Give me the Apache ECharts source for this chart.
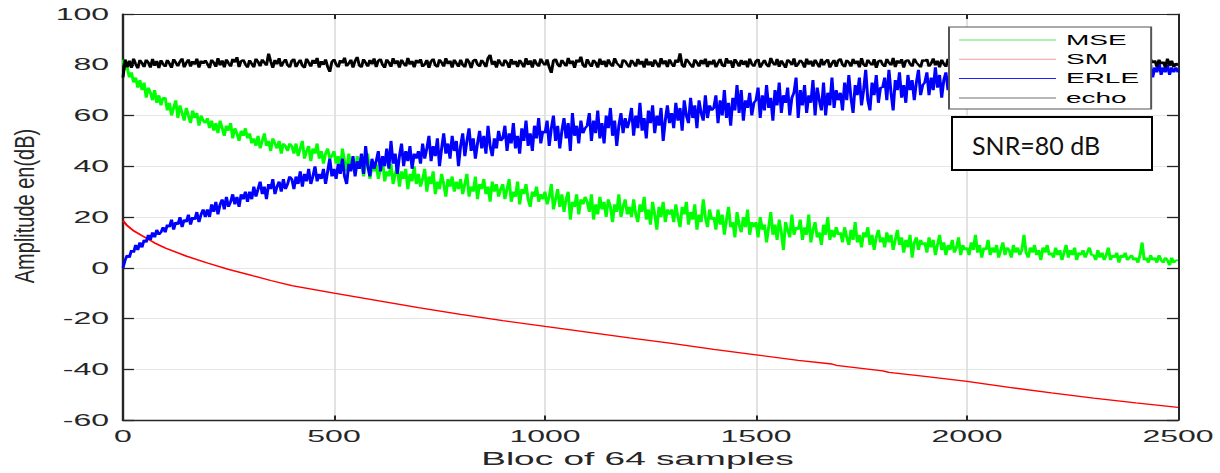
<!DOCTYPE html>
<html>
<head>
<meta charset="utf-8">
<script src="https://cdn.jsdelivr.net/npm/echarts@6/dist/echarts.min.js"></script>
<style>
  html, body { margin: 0; padding: 0; background: #fff; overflow: hidden; }
  /* The figure is laid out at half width and widened 2x, like a MATLAB export stretched sideways. */
  #chart { width: 610px; height: 473px; transform: scaleX(2); transform-origin: 0 0; }
</style>
</head>
<body>
<div id="chart"></div>
<script>
// Block spacing between stored samples of the noisy curves (blocs of 64 samples)
const BLOCK_STEP = 5;

// MSE curve, one value every BLOCK_STEP blocks, 0..2500 (dB)
const mseValues = [
  82,78,79,75,77,73,75,71,74,70,73,67,71,69,66,70,65,68,64,67,
  67,62,65,60,63,66,59,64,61,58,63,60,57,62,59,61,56,60,58,57,
  59,55,58,54,57,53,58,55,52,56,54,57,51,55,53,50,54,52,55,51,
  53,49,51,48,52,47,50,53,48,50,46,51,49,47,50,45,49,48,46,49,
  48,45,49,44,47,50,43,46,48,42,47,45,49,43,46,41,45,47,43,44,
  46,41,44,39,47,42,38,45,40,43,37,44,39,42,36,41,45,35,40,38,
  41,35,39,43,34,38,36,41,33,37,40,32,38,35,39,31,37,34,40,33,
  37,32,35,39,30,36,33,38,29,34,31,37,33,28,35,32,36,30,34,31,
  35,29,33,37,28,32,30,36,27,33,31,35,29,32,26,34,30,33,28,31,
  33,27,31,35,26,30,28,34,25,31,29,33,27,24,30,28,32,26,29,27,
  30,25,28,33,23,27,31,24,29,22,27,30,19,26,24,29,21,27,25,28,
  26,22,29,19,25,21,28,23,26,20,27,24,18,25,22,29,20,24,27,21,
  24,20,27,21,18,25,22,28,19,23,17,26,21,15,24,20,26,18,23,21,
  23,18,25,20,16,24,21,26,17,22,19,25,15,21,18,27,20,16,23,19,
  20,15,23,17,21,13,19,24,16,18,12,22,17,14,20,16,23,13,18,16,
  18,12,20,15,17,10,16,22,13,17,11,19,14,7,18,15,12,21,13,16,
  15,19,11,16,13,21,10,15,18,12,14,9,17,13,20,11,15,12,16,13,
  14,10,16,12,9,15,11,18,10,13,8,14,12,16,9,13,7,12,15,10,
  12,8,14,10,13,7,11,15,9,12,6,11,8,13,4,10,12,7,11,9,
  10,6,12,8,11,5,9,13,7,10,5,9,7,11,6,8,12,5,9,7,
  8,5,10,7,13,6,9,4,8,7,11,5,8,6,9,4,7,10,5,8,
  7,4,9,6,8,5,7,13,6,4,8,6,9,5,7,3,8,6,9,5,
  6,4,8,5,7,3,6,9,4,7,5,8,3,6,5,7,4,6,8,5,
  5,3,7,4,6,3,5,8,3,5,4,6,2,5,4,6,3,4,5,3,
  4,2,5,10,3,4,2,5,3,4,2,5,3,2,4,3,1,4,2,3,
  3
];

// ERLE curve, same block spacing (dB)
const erleValues = [
  0,3,5,4,7,6,9,7,10,8,11,10,13,11,14,12,15,13,14,16,
  14,17,16,19,15,18,17,20,16,19,18,21,17,20,19,22,18,21,23,20,
  23,20,25,22,26,21,25,27,23,28,24,26,29,25,28,24,29,27,30,26,
  30,27,32,28,31,34,29,32,27,33,31,35,29,32,34,30,35,31,33,36,
  35,31,36,33,38,32,37,34,39,33,36,40,34,37,35,39,33,38,43,36,
  39,35,41,37,43,36,33,41,38,44,36,42,39,45,37,48,40,36,43,39,
  42,46,38,44,40,47,39,50,41,45,37,44,49,40,46,42,48,39,45,43,
  46,41,49,43,47,52,42,48,44,51,40,47,53,45,49,43,52,46,50,40,
  48,53,44,50,55,46,51,43,49,54,47,52,45,56,48,44,51,47,54,50,
  51,56,46,53,49,57,47,52,45,55,50,58,48,53,46,56,51,59,49,54,
  53,58,48,55,60,50,56,47,54,59,51,57,46,61,52,56,49,58,53,55,
  56,61,50,58,53,62,51,57,49,60,55,63,52,58,48,56,61,53,59,55,
  58,63,52,60,55,65,54,59,51,62,57,64,53,60,56,63,50,58,64,57,
  61,55,65,58,63,54,66,60,57,67,59,64,55,66,61,58,68,59,64,62,
  63,68,57,66,60,70,59,65,56,67,62,72,61,70,58,66,63,69,60,65,
  66,71,59,68,62,72,63,67,58,70,64,73,61,68,65,71,60,67,69,75,
  59,70,64,72,61,68,65,74,60,71,66,62,73,60,69,64,75,63,70,66,
  69,62,73,66,76,67,61,72,68,75,64,70,78,66,62,73,68,76,65,71,
  71,75,66,78,69,62,74,70,77,67,72,65,76,70,74,66,73,78,68,72,
  73,77,68,75,70,79,71,76,67,74,77,70,75,72,78,69,75,73,77,72,
  75,71,78,73,77,70,75,79,72,76,71,78,74,72,79,74,71,77,76,73,
  76,72,79,74,78,71,76,80,73,77,72,79,75,73,80,75,72,78,77,74,
  77,73,80,75,78,72,77,81,74,78,73,79,76,74,80,77,73,79,77,75,
  78,74,80,76,79,74,77,81,75,79,75,80,77,75,80,78,74,79,77,76,
  77,80,75,79,76,79,77,80,75,79,77,81,76,79,77,80,76,79,77,79,
  77
];

// Echo level, same block spacing (dB)
const echoValues = [
  75.0,82.1,79.0,81.6,78.8,82.4,80.3,78.6,81.9,80.7,79.1,82.0,80.9,78.9,82.3,79.6,81.5,78.7,81.8,80.2,
  79.2,81.9,80.5,78.8,82.2,80.9,79.4,81.3,82.5,79.0,80.8,82.1,79.3,81.4,80.1,82.4,78.9,81.6,80.4,81.8,
  80.3,78.7,82.0,80.9,79.2,82.6,79.8,81.7,79.0,82.1,80.6,79.3,82.3,80.9,83.0,79.1,81.5,82.0,80.2,78.9,
  81.8,80.4,79.0,82.4,81.2,79.4,82.1,80.8,79.7,84.4,81.3,78.8,81.9,80.2,82.6,79.3,81.0,82.2,79.8,79.0,
  81.6,82.3,79.1,80.7,82.0,79.6,78.8,82.4,80.9,79.3,81.9,80.4,82.7,78.9,81.4,80.0,82.1,79.2,77.2,81.2,
  82.2,80.1,79.0,81.8,80.6,82.8,79.4,80.5,82.0,78.9,81.5,83.1,79.7,79.0,82.2,80.8,79.3,81.9,80.2,82.5,
  79.1,81.6,82.3,80.0,78.8,82.1,80.9,79.2,82.6,80.3,81.7,78.9,82.0,80.5,79.4,82.7,80.1,81.5,79.0,81.9,
  80.6,82.2,79.2,80.1,81.9,78.8,81.4,82.4,79.8,79.1,82.1,80.9,79.3,82.6,80.3,81.6,78.9,82.0,80.6,79.2,
  82.0,79.9,79.0,82.4,81.1,78.7,81.6,82.2,80.1,79.3,81.9,80.7,79.1,82.7,83.9,80.0,81.5,78.9,82.1,80.5,
  79.4,82.0,80.9,78.8,82.2,80.1,81.5,79.1,81.9,80.5,79.0,82.6,80.0,81.7,78.9,82.1,80.3,79.3,82.4,80.8,
  79.8,82.1,79.0,76.8,81.7,82.3,80.1,79.1,81.9,80.6,79.4,82.7,80.3,81.6,78.8,82.0,80.9,83.2,79.8,78.9,
  82.2,80.5,79.2,81.9,80.9,78.9,82.4,80.0,81.6,79.1,82.1,80.3,79.3,82.6,80.7,79.8,78.8,82.0,81.5,80.1,
  79.0,81.9,80.7,79.3,82.3,80.1,81.5,78.9,82.4,79.8,81.3,79.2,82.0,80.5,79.0,82.6,80.2,81.7,79.1,82.1,
  80.5,79.2,82.0,80.8,84.5,79.8,79.0,82.3,81.2,80.0,78.9,82.1,80.9,79.3,81.9,80.2,82.4,79.1,81.5,80.1,
  82.0,79.0,80.7,82.3,79.8,79.2,82.6,80.5,81.7,78.8,82.2,80.9,79.3,81.9,80.0,81.6,79.0,82.4,80.3,79.3,
  81.5,82.2,78.9,80.5,81.9,80.0,79.1,82.7,80.7,79.8,82.3,79.2,81.7,80.3,78.8,82.0,81.2,79.9,82.5,79.2,
  80.3,81.9,80.9,78.9,82.4,80.1,81.6,79.3,82.0,80.5,79.0,82.3,79.8,81.3,82.1,78.9,80.6,81.9,79.2,81.7,
  82.4,80.0,79.1,81.9,81.0,79.3,82.3,80.3,81.6,79.0,82.6,80.1,79.2,82.0,80.7,79.8,82.2,78.8,81.4,81.9,
  80.1,79.2,82.3,80.7,79.8,82.7,79.1,81.7,80.5,82.2,78.9,81.6,82.0,80.3,79.3,82.4,80.9,80.0,79.0,82.0,
  81.3,82.2,79.3,80.5,82.5,79.8,81.6,79.0,82.0,80.3,79.2,82.3,80.9,80.0,81.9,79.1,80.7,82.2,80.1,79.3,
  81.9,80.5,79.1,82.3,80.0,81.6,78.9,82.2,80.9,79.8,82.4,79.2,81.7,80.3,82.0,79.0,81.4,82.3,80.1,79.3,
  80.9,82.0,79.8,79.1,82.4,80.3,81.7,79.2,82.2,80.6,79.0,81.9,80.5,81.5,79.3,82.5,80.1,81.4,78.9,82.0,
  80.3,79.3,82.1,80.9,79.8,82.3,79.1,81.6,82.0,80.2,79.0,82.4,80.7,80.0,81.8,79.2,82.2,80.5,79.8,82.0,
  79.2,81.9,80.7,80.1,82.3,79.0,81.7,80.5,82.1,79.8,79.1,82.5,80.3,81.6,79.3,82.2,80.9,80.0,81.9,79.1,
  80.5,82.1,79.3,81.4,81.9,80.1,79.0,82.3,80.7,81.7,79.2,82.0,80.3,81.2,78.9,82.4,79.9,81.6,79.1,80.6,
  80.0
];

// SM curve is smooth: block index / value pairs
const smBlocks = [0,10,25,50,75,100,150,200,250,300,350,400,500,600,700,800,900,1000,1100,1200,1300,1400,1500,1600,1680,1690,1800,1815,1900,2000,2100,2200,2300,2400,2500];
const smValues = [18.5,16.6,14.6,12.2,9.8,7.8,4.6,1.9,-0.6,-2.8,-5.0,-7.0,-10.0,-12.8,-15.7,-18.3,-20.8,-23.1,-25.3,-27.6,-29.8,-32.1,-34.3,-36.5,-37.9,-38.4,-40.6,-41.2,-42.8,-44.7,-47.1,-49.3,-51.3,-53.2,-55.0];

const seriesNames = ['MSE', 'SM', 'ERLE', 'echo'];
const seriesColors = ['#00ff00', '#ff0000', '#0000ff', '#000000'];
const legendColors = ['#5ce65c', '#f79a9a', '#2020ff', '#707070'];

const xTicks = { min: 0, max: 2500, interval: 500 };
const yTicks = { min: -60, max: 100, interval: 20 };

const axisInk = '#262626';
const tickFont = '"Liberation Sans", Arial, sans-serif';

function blockPairs(values) {
  return values.map((v, i) => [i * BLOCK_STEP, v]);
}

const chart = echarts.init(document.getElementById('chart'), null, { renderer: 'svg' });

const plainNumber = v => String(v);

// Annotation box edges (figure is widened 2x, so vertical edges use half the width)
const noteBox = { x0: 476, x1: 576, y0: 117, y1: 170 };
const noteEdge = (x1, y1, x2, y2, w) => ({
  type: 'line', z: 100,
  shape: { x1: x1, y1: y1, x2: x2, y2: y2 },
  style: { stroke: '#000000', lineWidth: w }
});

const option = {
  animation: false,
  backgroundColor: '#ffffff',
  grid: { left: 61.5, right: 21, top: 14, bottom: 52, containLabel: false },
  xAxis: [
    {
      type: 'value', min: xTicks.min, max: xTicks.max, interval: xTicks.interval,
      position: 'bottom',
      name: 'Bloc of 64 samples', nameLocation: 'middle', nameGap: 26,
      nameTextStyle: { fontFamily: tickFont, fontSize: 18.5, color: axisInk, padding: [0, 13, 0, 0] },
      axisLine: { show: true, onZero: false, lineStyle: { color: axisInk, width: 1.4 } },
      axisTick: { show: true, inside: true, length: 4.5, lineStyle: { color: axisInk, width: 1 } },
      axisLabel: { margin: 8, fontFamily: tickFont, fontSize: 16, color: axisInk, formatter: plainNumber },
      splitLine: { show: true, lineStyle: { color: '#e2e2e2', width: 1 } }
    },
    {
      type: 'value', min: xTicks.min, max: xTicks.max, interval: xTicks.interval,
      position: 'top',
      axisLine: { show: true, onZero: false, lineStyle: { color: axisInk, width: 1.2 } },
      axisTick: { show: true, inside: true, length: 5, lineStyle: { color: axisInk, width: 1 } },
      axisLabel: { show: false },
      splitLine: { show: false }
    }
  ],
  yAxis: [
    {
      type: 'value', min: yTicks.min, max: yTicks.max, interval: yTicks.interval,
      position: 'left',
      axisLine: { show: true, onZero: false, lineStyle: { color: axisInk, width: 1.2 } },
      axisTick: { show: true, inside: true, length: 5.5, lineStyle: { color: axisInk, width: 1.3 } },
      axisLabel: { margin: 7, fontFamily: tickFont, fontSize: 16, color: axisInk, formatter: plainNumber },
      splitLine: { show: true, lineStyle: { color: '#e6e6e6', width: 1 } }
    },
    {
      type: 'value', min: yTicks.min, max: yTicks.max, interval: yTicks.interval,
      position: 'right',
      axisLine: { show: true, onZero: false, lineStyle: { color: axisInk, width: 1 } },
      axisTick: { show: true, inside: true, length: 5.5, lineStyle: { color: axisInk, width: 1.3 } },
      axisLabel: { show: false },
      splitLine: { show: false }
    }
  ],
  legend: {
    z: 20,
    orient: 'vertical',
    left: 474.5, top: 27,
    padding: [6, 6, 4, 5],
    itemGap: 5.3,
    itemWidth: 48.5, itemHeight: 1,
    icon: 'rect',
    selectedMode: false,
    backgroundColor: '#ffffff',
    borderColor: '#555555', borderWidth: 1,
    textStyle: { fontFamily: tickFont, fontSize: 14, color: '#000000' },
    data: seriesNames.map((n, i) => ({ name: n, itemStyle: { color: legendColors[i] } }))
  },
  graphic: [
    {
      type: 'text', z: 50,
      x: 12, y: 206, rotation: Math.PI / 2, scaleY: 0.68,
      style: { text: 'Amplitude en(dB)', fontFamily: tickFont, fontSize: 20, fill: axisInk, align: 'center', verticalAlign: 'middle' }
    },
    {
      type: 'rect', z: 99,
      shape: { x: noteBox.x0, y: noteBox.y0, width: noteBox.x1 - noteBox.x0, height: noteBox.y1 - noteBox.y0 },
      style: { fill: '#ffffff' }
    },
    noteEdge(noteBox.x0, noteBox.y0, noteBox.x1, noteBox.y0, 2),
    noteEdge(noteBox.x0, noteBox.y1, noteBox.x1, noteBox.y1, 2),
    noteEdge(noteBox.x0, noteBox.y0 - 1, noteBox.x0, noteBox.y1 + 1, 1),
    noteEdge(noteBox.x1, noteBox.y0 - 1, noteBox.x1, noteBox.y1 + 1, 1),
    {
      // label drawn at natural width inside the widened figure
      type: 'text', z: 101, x: 486, y: 145, scaleX: 0.5,
      style: { text: 'SNR=80 dB', fontFamily: 'Lato, "Open Sans", sans-serif', fontSize: 25, fill: '#111111', align: 'left', verticalAlign: 'middle' }
    }
  ],
  series: [
    {
      name: seriesNames[0], type: 'line', data: blockPairs(mseValues),
      showSymbol: false, symbol: 'none', silent: true, z: 2,
      lineStyle: { color: seriesColors[0], width: 1.5 }, itemStyle: { color: seriesColors[0] }
    },
    {
      name: seriesNames[1], type: 'line', data: smBlocks.map((b, i) => [b, smValues[i]]),
      showSymbol: false, symbol: 'none', silent: true, z: 3,
      lineStyle: { color: seriesColors[1], width: 1.3 }, itemStyle: { color: seriesColors[1] }
    },
    {
      name: seriesNames[2], type: 'line', data: blockPairs(erleValues),
      showSymbol: false, symbol: 'none', silent: true, z: 4,
      lineStyle: { color: seriesColors[2], width: 1.5 }, itemStyle: { color: seriesColors[2] }
    },
    {
      name: seriesNames[3], type: 'line', data: blockPairs(echoValues),
      showSymbol: false, symbol: 'none', silent: true, z: 5,
      lineStyle: { color: seriesColors[3], width: 1.5 }, itemStyle: { color: seriesColors[3] }
    }
  ]
};

chart.setOption(option);
</script>
</body>
</html>
